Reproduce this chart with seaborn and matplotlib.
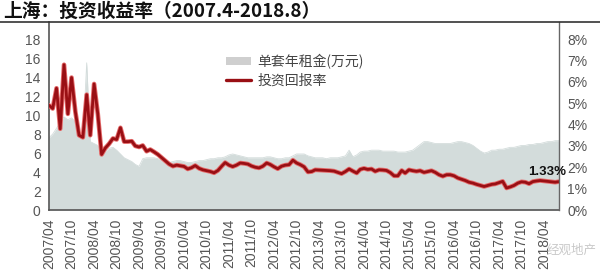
import numpy as np
import pandas as pd
import matplotlib
matplotlib.use("Agg")
import matplotlib.pyplot as plt
import matplotlib.patheffects as pe
from matplotlib.patches import Patch
from matplotlib.lines import Line2D
import seaborn as sns

# ---------------- data ----------------
start_month = "2007-04-01"
end_month = "2018-08-01"

rent = [  # 单套年租金(万元), monthly from 2007/04
    7.6, 8.0, 8.6, 9.2, 9.8, 9.5, 9.7, 9.3, 8.0, 7.5,
    15.5, 7.2, 7.0, 6.8, 5.9, 6.2, 6.5, 6.6, 6.3, 5.9,
    5.5, 5.3, 5.1, 4.8, 4.6, 5.4, 5.5, 5.5, 5.5, 5.4,
    5.3, 5.1, 5.0, 5.1, 5.2, 5.2, 5.1, 5.0, 5.0, 5.1,
    5.2, 5.2, 5.3, 5.4, 5.4, 5.5, 5.5, 5.6, 5.8, 5.9,
    5.8, 5.7, 5.6, 5.5, 5.5, 5.5, 5.5, 5.5, 5.6, 5.6,
    5.5, 5.4, 5.4, 5.5, 5.5, 5.7, 5.9, 5.9, 5.9, 5.7,
    5.6, 5.5, 5.5, 5.5, 5.4, 5.5, 5.5, 5.5, 5.6, 5.7,
    6.3, 5.6, 5.8, 6.1, 6.2, 6.2, 6.3, 6.3, 6.3, 6.2,
    6.2, 6.2, 6.2, 6.1, 6.1, 6.1, 6.2, 6.3, 6.6, 6.9,
    7.2, 7.2, 7.1, 7.0, 7.0, 7.0, 7.0, 7.0, 7.1, 7.2,
    7.2, 7.1, 7.0, 6.8, 6.5, 6.2, 6.0, 6.1, 6.3, 6.3,
    6.4, 6.4, 6.5, 6.6, 6.6, 6.7, 6.8, 6.8, 6.9, 6.9,
    7.0, 7.0, 7.1, 7.2, 7.2, 7.3, 7.3,
]

yield_pct = [  # 投资回报率 (%), monthly from 2007/04
    4.9, 4.75, 5.7, 3.8, 6.8, 4.5, 6.2, 4.6, 3.5, 3.4,
    5.4, 3.5, 5.9, 4.5, 2.6, 2.9, 3.1, 3.35, 3.3, 3.85,
    3.2, 3.2, 3.22, 3.0, 2.95, 3.02, 2.75, 2.83, 2.72, 2.6,
    2.45, 2.3, 2.15, 2.05, 2.1, 2.07, 2.04, 1.92, 1.98, 2.08,
    1.95, 1.88, 1.84, 1.8, 1.74, 1.85, 2.05, 2.22, 2.1, 2.03,
    2.1, 2.2, 2.18, 2.15, 2.06, 2.0, 1.97, 2.05, 2.2, 2.13,
    2.02, 1.93, 2.05, 2.1, 2.12, 2.33, 2.2, 2.12, 2.02, 1.78,
    1.8, 1.88, 1.87, 1.86, 1.85, 1.84, 1.82, 1.76, 1.7, 1.8,
    1.92, 1.82, 1.73, 1.9, 1.95, 1.9, 1.92, 1.81, 1.88, 1.87,
    1.85, 1.75, 1.6, 1.6, 1.85, 1.73, 1.88, 1.84, 1.81, 1.84,
    1.76, 1.8, 1.84, 1.76, 1.65, 1.58, 1.65, 1.65, 1.6, 1.5,
    1.44, 1.38, 1.3, 1.26, 1.2, 1.15, 1.1, 1.15, 1.2, 1.22,
    1.28, 1.34, 1.03, 1.08, 1.15, 1.26, 1.32, 1.3, 1.23, 1.33,
    1.36, 1.38, 1.36, 1.34, 1.32, 1.3, 1.33,
]

left_ticks = [0, 2, 4, 6, 8, 10, 12, 14, 16, 18]
right_ticks = [0, 1, 2, 3, 4, 5, 6, 7, 8]
xtick_start = "2007-04-01"
xtick_end = "2018-04-01"

title = "上海：投资收益率（2007.4-2018.8）"
label_rent = "单套年租金(万元)"
label_yield = "投资回报率"
last_label = "1.33%"
watermark = "经观地产"

# ---------------- style ----------------
sns.set_theme(style="white")
plt.rcParams["font.family"] = ["Liberation Sans", "Noto Sans CJK SC", "DejaVu Sans"]

dates = pd.date_range(start_month, periods=len(rent), freq="MS")
df = pd.DataFrame({"date": dates, "rent": rent, "yield": yield_pct})

fig = plt.figure(figsize=(6.0, 2.73), dpi=100)
W, H = 600, 273
ax = fig.add_axes([49 / W, 1 - 210 / H, 510 / W, 188 / H])
ax2 = ax.twinx()

fill_color = "#d3dcdb"
red = "#990f14"
tick_color = "#555555"

# rent area (left axis)
sns.lineplot(data=df, x="date", y="rent", ax=ax, color=fill_color, linewidth=0.6, legend=False)
ax.fill_between(df["date"], 0, df["rent"], color=fill_color, linewidth=0)

# yield line (right axis)
sns.lineplot(data=df, x="date", y="yield", ax=ax2, color=red, linewidth=2.0, legend=False,
             path_effects=[pe.Stroke(linewidth=3.3, foreground="#e46a6a"), pe.Normal()])

ax.set_ylim(0, 19.8)
ax2.set_ylim(0, 8.8)
ax.set_xlim(pd.Timestamp(start_month), pd.Timestamp(end_month))

ax.set_yticks(left_ticks)
ax.set_yticklabels([str(t) for t in left_ticks])
ax2.set_yticks(right_ticks)
ax2.set_yticklabels([f"{t}%" for t in right_ticks])

xticks = pd.date_range(xtick_start, xtick_end, freq="6MS")
ax.set_xticks(xticks)
ax.set_xticklabels([d.strftime("%Y/%m") for d in xticks], rotation=90)

for a in (ax, ax2):
    a.set_xlabel("")
    a.set_ylabel("")
    a.tick_params(axis="both", length=0, labelsize=10, colors=tick_color)
    for s in a.spines.values():
        s.set_visible(False)
ax.tick_params(axis="y", pad=6)
ax.tick_params(axis="x", pad=6)
ax2.tick_params(axis="y", pad=6)

ax.spines["left"].set_visible(True)
ax.spines["bottom"].set_visible(True)
ax.spines["left"].set_color("#555555")
ax.spines["bottom"].set_color("#555555")
ax.spines["left"].set_linewidth(1.2)
ax.spines["bottom"].set_linewidth(1.2)
ax2.spines["right"].set_visible(True)
ax2.spines["right"].set_color("#666666")
ax2.spines["right"].set_linewidth(1.0)

# legend
handles = [Patch(facecolor="#cfcfcf", edgecolor="none"),
           Line2D([0], [0], color=red, linewidth=2.4)]
fig.legend(handles, [label_rent, label_yield], loc="upper left",
           bbox_to_anchor=(226 / W, 1 - 54 / H), frameon=False,
           handlelength=1.8, handleheight=0.5, handletextpad=0.45,
           labelspacing=0.35, borderpad=0, borderaxespad=0,
           prop={"family": ["Noto Sans CJK SC", "DejaVu Sans"], "size": 10},
           labelcolor="#444444")

# last value label
ax2.annotate(last_label, xy=(df["date"].iloc[-1], yield_pct[-1]), xytext=(-12, 10),
             textcoords="offset pixels", ha="center", va="center", fontsize=9.5,
             fontweight="bold", color="#111111", family=["Liberation Sans", "DejaVu Sans"])

# title and separator line
fig.text(3 / W, 1 - 11 / H, title, ha="left", va="center", fontsize=13.5, fontweight="bold",
         color="#111111", family=["Noto Sans CJK SC", "DejaVu Sans"])
fig.add_artist(Line2D([0, 1], [1 - 22 / H, 1 - 22 / H], transform=fig.transFigure,
                      color="#333333", linewidth=1.2))

# faint watermark (kept clear of the tick labels)
fig.text(597 / W, 1 - 250 / H, watermark, ha="right", va="center", fontsize=9,
         color="#c9c9c9", family=["Noto Sans CJK SC", "DejaVu Sans"])

fig.savefig("out.png", dpi=100)
